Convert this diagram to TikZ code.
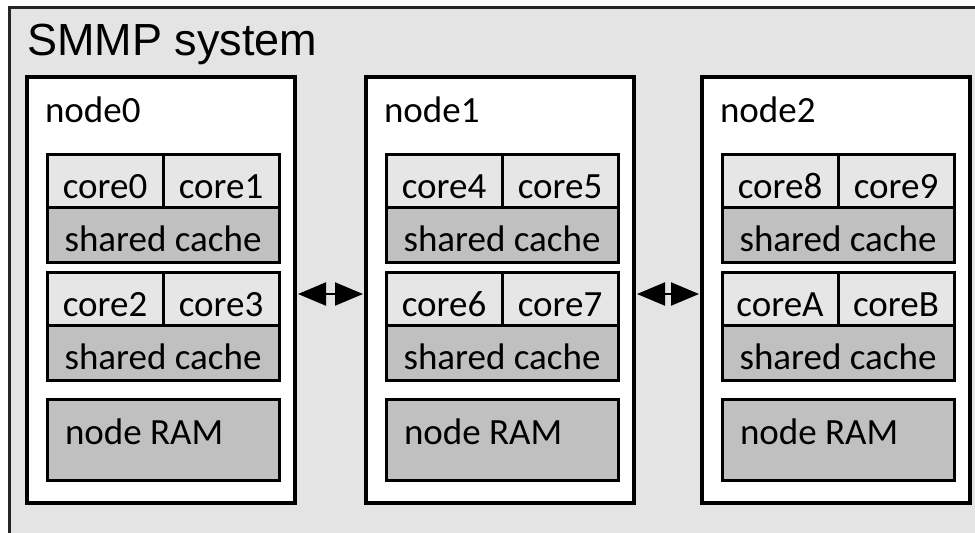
\documentclass[tikz,border=0pt]{standalone}
\usepackage{fontspec}
\setmainfont{Carlito}
\newfontfamily\titlefont{Liberation Sans}
\usetikzlibrary{positioning,arrows.meta}

\definecolor{sysgray}{HTML}{E4E4E4}
\definecolor{coregray}{HTML}{E6E6E6}
\definecolor{cachegray}{HTML}{C0C0C0}

\tikzset{
    sys frame/.style={
        draw=black!85,
        fill=sysgray,
        line width=1.5pt,
    },
    numa box/.style={
        draw,
        fill=white,
        line width=1.9pt,
        minimum width=134pt,
        minimum height=213pt,
        anchor=north west,
        inner sep=0,
        outer sep=0,
    },
    box label/.style={
        anchor=base west,
        inner sep=0,
        outer sep=0,
        font=\fontsize{18.5pt}{20pt}\selectfont,
    },
    core box/.style={
        draw,
        fill=coregray,
        line width=1.5pt,
        minimum width=58pt,
        minimum height=26.5pt,
        text height=17.5pt,
        text depth=0pt,
        inner ysep=0,
        outer sep=0,
        font=\fontsize{18.5pt}{20pt}\selectfont,
    },
    cache box/.style={
        core box,
        fill=cachegray,
        minimum width=116pt,
        minimum height=27.5pt,
        text height=16.5pt,
        anchor=north west,
    },
    ram box/.style={
        draw,
        fill=cachegray,
        line width=1.5pt,
        minimum width=116pt,
        minimum height=40.5pt,
        anchor=north west,
        inner sep=0,
        outer sep=0,
    },
    link/.style={
        {Triangle[length=14pt,width=11.5pt]}-{Triangle[length=14pt,width=11.5pt]},
        line width=1pt,
        shorten <=1.5pt,
        shorten >=1.5pt,
    },
}

\begin{document}
\begin{tikzpicture}[x=0.5pt,y=-0.5pt]

    \useasboundingbox (0,0) rectangle (975,532);
    \clip (0,0) rectangle (975,532);

    % system frame, runs off the right and bottom edge
    \draw[sys frame] (9,7) rectangle (995,550);
    \node[anchor=base west, inner sep=0, font=\titlefont\fontsize{22.5pt}{24pt}\selectfont]
        (title) at (27,55) {SMMP system};

    \foreach \name/\x/\a/\b/\c/\d [count=\n from 0] in {
        node0/27/core0/core1/core2/core3,
        node1/366/core4/core5/core6/core7,
        node2/702/core8/core9/coreA/coreB
    } {
        \node[numa box] (node\n) at (\x,77) {};
        \node[box label] (label\n) at ([shift={(9pt,-22.5pt)}]node\n.north west) {\name};

        % two dies with a shared cache each
        \foreach \ca/\cb/\dy [count=\g] in {\a/\b/38.5, \c/\d/97.5} {
            \node[core box, anchor=north west] (core\n-\g-l)
                at ([shift={(10pt,-\dy pt)}]node\n.north west) {\ca};
            \node[core box, right=0pt of core\n-\g-l] (core\n-\g-r) {\cb};
            \node[cache box] (cache\n-\g) at (core\n-\g-l.south west) {shared cache};
        }

        % memory
        \node[ram box] (ram\n) at ([shift={(10pt,-161pt)}]node\n.north west) {};
        \node[box label] (ramlabel\n) at ([shift={(9pt,-22.5pt)}]ram\n.north west) {node RAM};
    }

    % interconnect
    \draw[link] ([yshift=-2pt]node0.east) -- ([yshift=-2pt]node1.west);
    \draw[link] ([yshift=-2pt]node1.east) -- ([yshift=-2pt]node2.west);

\end{tikzpicture}
\end{document}
